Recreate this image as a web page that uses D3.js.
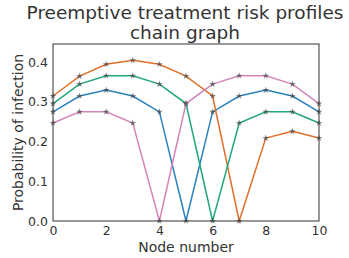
<!DOCTYPE html>
<html>
<head>
<meta charset="utf-8">
<script src="https://d3js.org/d3.v7.min.js"></script>
<style>
  body { margin: 0; background: white; }
  text { font-family: "DejaVu Sans", sans-serif; fill: #333; }
</style>
</head>
<body>
<div id="chart"></div>
<script>
var nodes = [0, 1, 2, 3, 4, 5, 6, 7, 8, 9, 10];
var riskBlue   = [0.275, 0.315, 0.330, 0.315, 0.275, 0.0, 0.275, 0.315, 0.330, 0.315, 0.275];
var riskOrange = [0.315, 0.365, 0.395, 0.405, 0.395, 0.365, 0.315, 0.0, 0.209, 0.226, 0.209];
var riskGreen  = [0.296, 0.345, 0.366, 0.366, 0.345, 0.296, 0.0, 0.247, 0.275, 0.275, 0.247];
var riskPink   = [0.247, 0.275, 0.275, 0.247, 0.0, 0.296, 0.345, 0.366, 0.366, 0.345, 0.296];
var xTicks = [0, 2, 4, 6, 8, 10];
var yTicks = [0.0, 0.1, 0.2, 0.3, 0.4];

var series = [
  {values: riskBlue,   color: "#2a82bf"},
  {values: riskOrange, color: "#e0702a"},
  {values: riskGreen,  color: "#22a67e"},
  {values: riskPink,   color: "#d685ba"}
];

var width = 349, height = 258;
var mLeft = 53, mRight = 319, mTop = 44, mBottom = 221;

var svg = d3.select("#chart").append("svg")
  .attr("width", width)
  .attr("height", height);

var x = d3.scaleLinear().domain([0, 10]).range([mLeft, mRight]);
var y = d3.scaleLinear().domain([0, 0.446]).range([mBottom, mTop]);

var line = d3.line()
  .x(function(d, i) { return x(nodes[i]); })
  .y(function(d) { return y(d); });

var star = d3.symbol().type(d3.symbolStar).size(14);

series.forEach(function(s) {
  svg.append("path")
    .datum(s.values)
    .attr("d", line)
    .attr("fill", "none")
    .attr("stroke", s.color)
    .attr("stroke-width", 1.5);

  svg.selectAll(null)
    .data(s.values)
    .enter()
    .append("path")
    .attr("d", star)
    .attr("transform", function(d, i) { return "translate(" + x(nodes[i]) + "," + y(d) + ")"; })
    .attr("fill", "#444")
    .attr("opacity", 0.7);
});

// frame
svg.append("rect")
  .attr("x", mLeft).attr("y", mTop)
  .attr("width", mRight - mLeft).attr("height", mBottom - mTop)
  .attr("fill", "none")
  .attr("stroke", "#333")
  .attr("stroke-width", 1);

var xAxis = svg.append("g")
  .attr("transform", "translate(0," + mBottom + ")")
  .call(d3.axisBottom(x).tickValues(xTicks).tickSize(0).tickPadding(5).tickFormat(d3.format("d")));
xAxis.select(".domain").remove();
xAxis.selectAll("text").style("font-size", "12.5px").attr("fill", "#333");

var yAxis = svg.append("g")
  .attr("transform", "translate(" + mLeft + ",0)")
  .call(d3.axisLeft(y).tickValues(yTicks).tickSize(0).tickPadding(5).tickFormat(d3.format(".1f")));
yAxis.select(".domain").remove();
yAxis.selectAll("text").style("font-size", "12.5px").attr("fill", "#333");

svg.append("text")
  .attr("x", (mLeft + mRight) / 2)
  .attr("y", 252)
  .attr("text-anchor", "middle")
  .style("font-size", "14px")
  .text("Node number");

svg.append("text")
  .attr("transform", "rotate(-90)")
  .attr("x", -(mTop + mBottom) / 2)
  .attr("y", 23)
  .attr("text-anchor", "middle")
  .style("font-size", "14px")
  .text("Probability of infection");

svg.append("text")
  .attr("x", 185)
  .attr("y", 19)
  .attr("text-anchor", "middle")
  .style("font-size", "18.5px")
  .text("Preemptive treatment risk profiles");

svg.append("text")
  .attr("x", 185)
  .attr("y", 39)
  .attr("text-anchor", "middle")
  .style("font-size", "18.5px")
  .text("chain graph");
</script>
</body>
</html>
